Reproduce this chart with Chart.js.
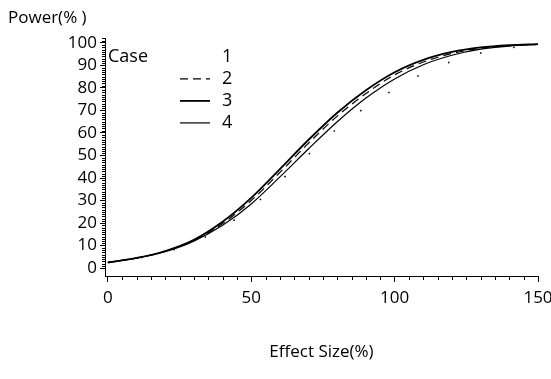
<!DOCTYPE html>
<html>
<head>
<meta charset="utf-8">
<script src="https://cdn.jsdelivr.net/npm/chart.js@4.4.0/dist/chart.umd.min.js"></script>
<style>
  html, body { margin: 0; padding: 0; background: #fff; }
</style>
</head>
<body>
<canvas id="myChart" width="551" height="379"></canvas>
<script>
// values
const effectSize = [0, 10, 20, 30, 40, 50, 60, 70, 80, 90, 100, 110, 120, 130, 140, 150];
const case1 = [2.5, 4.3, 7.0, 11.5, 18.0, 27.0, 38.5, 50.5, 62.0, 71.5, 79.5, 86.5, 91.8, 95.5, 97.8, 99.0];
const case2 = [2.5, 4.5, 7.5, 12.3, 19.8, 30.0, 42.5, 55.5, 67.5, 77.5, 85.8, 91.5, 95.3, 97.6, 98.8, 99.4];
const case3 = [2.5, 4.5, 7.6, 12.6, 20.6, 31.2, 44.0, 57.0, 69.0, 79.0, 87.0, 92.5, 96.0, 98.0, 99.0, 99.5];
const case4 = [2.5, 4.4, 7.3, 12.0, 19.0, 28.5, 40.5, 53.0, 65.0, 75.5, 84.0, 90.3, 94.5, 97.2, 98.6, 99.3];
const caseLabels = ['1', '2', '3', '4'];
const xTicks = [0, 50, 100, 150];
const yTicks = [0, 10, 20, 30, 40, 50, 60, 70, 80, 90, 100];

const FONT = 'Open Sans';

const toPoints = arr => arr.map((v, i) => ({ x: effectSize[i], y: v }));

const lineStyles = [
  { borderWidth: 1.5, borderDash: [1.5, 32] },
  { borderWidth: 1.2, borderDash: [8, 5] },
  { borderWidth: 1.8, borderDash: [] },
  { borderWidth: 1.2, borderDash: [] }
];

const allCases = [case1, case2, case3, case4];

// small ticks between the labelled ones
const minorTicks = {
  id: 'minorTicks',
  afterDraw(chart) {
    const { ctx } = chart;
    const x = chart.scales.x, y = chart.scales.y;
    ctx.save();
    ctx.strokeStyle = '#000';
    ctx.lineWidth = 1;
    ctx.beginPath();
    for (let v = 0; v <= 102; v++) {
      if (v % 10 === 0) continue;
      const py = Math.round(y.getPixelForValue(v)) + 0.5;
      ctx.moveTo(y.right - 3, py);
      ctx.lineTo(y.right, py);
    }
    for (let v = 5; v < 150; v += 5) {
      if (v % 50 === 0) continue;
      const px = Math.round(x.getPixelForValue(v)) + 0.5;
      ctx.moveTo(px, x.top);
      ctx.lineTo(px, x.top + 4);
    }
    ctx.stroke();
    ctx.restore();
  }
};

// legend in the upper left of the plot
const caseLegend = {
  id: 'caseLegend',
  afterDatasetsDraw(chart) {
    const { ctx, chartArea } = chart;
    ctx.save();
    ctx.fillStyle = '#000';
    ctx.strokeStyle = '#000';
    ctx.font = '18px "' + FONT + '"';
    ctx.textBaseline = 'middle';
    ctx.textAlign = 'left';
    ctx.fillText('Case', chartArea.left + 3, chartArea.top + 18);
    chart.data.datasets.forEach((ds, i) => {
      const cy = chartArea.top + 18 + i * 22;
      ctx.beginPath();
      ctx.lineWidth = ds.borderWidth;
      ctx.setLineDash(ds.borderDash);
      if (i !== 0) {
        ctx.moveTo(chartArea.left + 75, cy + 0.5);
        ctx.lineTo(chartArea.left + 105, cy + 0.5);
        ctx.stroke();
      }
      ctx.fillText(ds.label, chartArea.left + 117, cy);
    });
    ctx.restore();
  }
};

const setup = () => {
  const ctxt = document.getElementById('myChart').getContext('2d');
  new Chart(ctxt, {
    type: 'line',
    data: {
      datasets: allCases.map((c, i) => ({
        label: caseLabels[i],
        data: toPoints(c),
        borderColor: '#000',
        backgroundColor: '#000',
        borderWidth: lineStyles[i].borderWidth,
        borderDash: lineStyles[i].borderDash,
        pointRadius: 0,
        cubicInterpolationMode: 'monotone',
        fill: false
      }))
    },
    options: {
      responsive: false,
      animation: false,
      layout: { padding: { left: 8, right: 13, top: 0, bottom: 0 } },
      plugins: {
        legend: { display: false },
        tooltip: { enabled: false },
        title: {
          display: true,
          text: 'Power(% )',
          align: 'start',
          color: '#000',
          font: { family: FONT, size: 17, weight: 'normal' },
          padding: { top: 8, bottom: 10 }
        }
      },
      scales: {
        x: {
          type: 'linear',
          min: -1,
          max: 150,
          afterBuildTicks: s => { s.ticks = xTicks.map(v => ({ value: v })); },
          afterFit: s => { s.height = 103; s.paddingLeft = 0; s.paddingRight = 0; },
          grid: { drawOnChartArea: false, tickLength: 6, tickColor: '#000' },
          border: { color: '#000', width: 1 },
          ticks: { color: '#000', padding: 6, maxRotation: 0, autoSkip: false, font: { family: FONT, size: 17 } },
          title: {
            display: true,
            text: 'Effect Size(%)',
            color: '#000',
            font: { family: FONT, size: 17 },
            padding: { top: 0, bottom: 17 }
          }
        },
        y: {
          min: -3.5,
          max: 102,
          afterBuildTicks: s => { s.ticks = yTicks.map(v => ({ value: v })); },
          afterFit: s => { s.width = 97; s.paddingTop = 0; s.paddingBottom = 0; },
          grid: { drawOnChartArea: false, tickLength: 5, tickColor: '#000' },
          border: { color: '#000', width: 1 },
          ticks: { color: '#000', padding: 3, autoSkip: false, font: { family: FONT, size: 17 } }
        }
      }
    },
    plugins: [minorTicks, caseLegend]
  });
};

window.addEventListener('DOMContentLoaded', setup);
</script>
</body>
</html>
